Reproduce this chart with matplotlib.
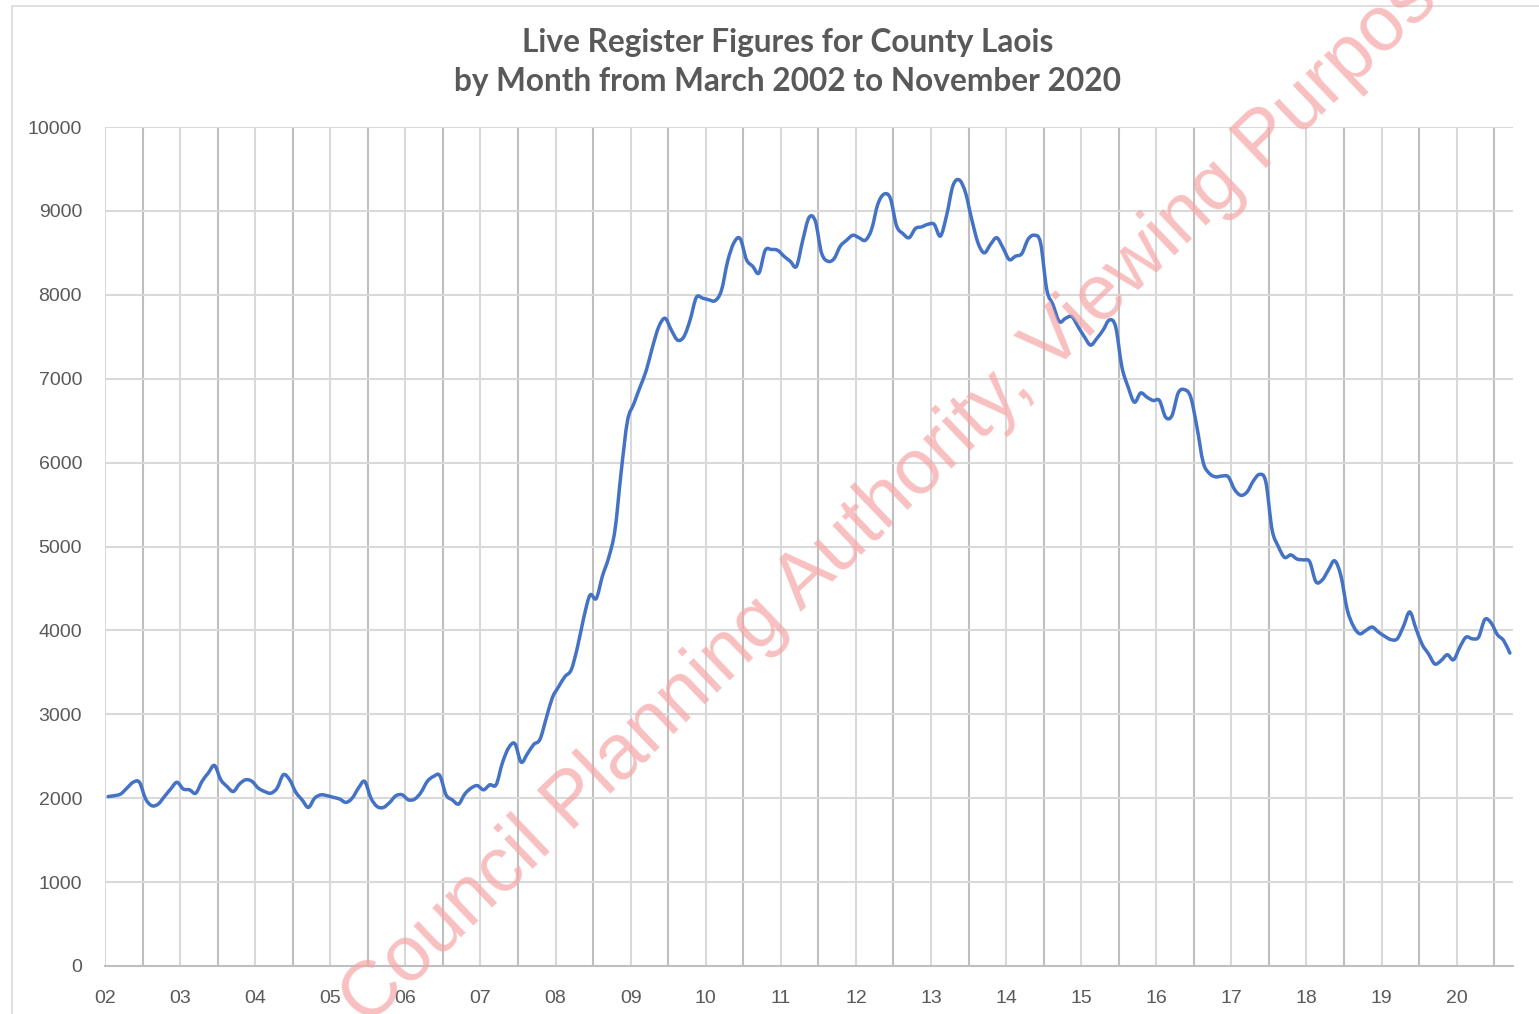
import numpy as np
import matplotlib
matplotlib.use("Agg")
import matplotlib.pyplot as plt
from matplotlib.patches import Rectangle, PathPatch
from matplotlib.path import Path

# Live register, Co. Laois, monthly from March 2002 to November 2020
values = [
    2020, 2030, 2050, 2120, 2190, 2190, 1990, 1910, 1930, 2020,   # 2002
    2110, 2190, 2110, 2100, 2060, 2200, 2300, 2390, 2220, 2140,
    2080, 2170, 2220, 2200, 2120, 2080, 2060, 2120, 2280, 2220,
    2070, 1980, 1890, 2000, 2040, 2030, 2010, 1990, 1950, 2000,
    2120, 2200, 2000, 1900, 1890, 1950, 2030, 2040, 1980, 1990,
    2070, 2200, 2260, 2270, 2040, 1980, 1930, 2050, 2120, 2150,
    2100, 2160, 2160, 2420, 2600, 2650, 2430, 2530, 2640, 2700,
    2950, 3200, 3330, 3450, 3530, 3800, 4150, 4420, 4380, 4650,
    4870, 5200, 5900, 6500, 6700, 6900, 7100, 7380, 7620, 7720,
    7580, 7460, 7500, 7700, 7970, 7960, 7940, 7930, 8050, 8400,
    8620, 8670, 8420, 8340, 8260, 8530, 8540, 8530, 8460, 8400,
    8340, 8650, 8920, 8880, 8500, 8400, 8430, 8580, 8650, 8710,
    8680, 8650, 8780, 9080, 9200, 9150, 8820, 8730, 8680, 8790,
    8810, 8840, 8840, 8700, 8950, 9300, 9370, 9220, 8900, 8620,
    8500, 8600, 8680, 8560, 8420, 8460, 8490, 8660, 8710, 8620,
    8060, 7880, 7680, 7720, 7740, 7620, 7500, 7400, 7480, 7580,
    7700, 7620, 7140, 6900, 6720, 6830, 6780, 6740, 6740, 6540,
    6560, 6830, 6870, 6780, 6420, 6000, 5870, 5830, 5840, 5830,
    5680, 5610, 5650, 5780, 5860, 5770, 5200, 5000, 4870, 4900,
    4850, 4840, 4820, 4580, 4600, 4720, 4830, 4650, 4250, 4050,
    3960, 4000, 4040, 3980, 3930, 3890, 3900, 4050, 4220, 4020,
    3830, 3720, 3600, 3640, 3710, 3650, 3800, 3920, 3900, 3920,
    4130, 4090, 3950, 3880, 3730,
]
year_labels = ["02", "03", "04", "05", "06", "07", "08", "09", "10", "11",
               "12", "13", "14", "15", "16", "17", "18", "19", "20"]
title = "Live Register Figures for County Laois\nby Month from March 2002 to November 2020"
watermark = "Council Planning Authority, Viewing Purpose"

n = len(values)
x = np.arange(n, dtype=float)
y = np.array(values, dtype=float)

fig = plt.figure(figsize=(15.39, 10.14), dpi=100)
ax = fig.add_axes([105 / 1539, 48 / 1014, 1408 / 1539, 839 / 1014])

# outer chart border
fig.patches.append(Rectangle((12 / 1539, -0.01), 1.0, 1.0 - 6 / 1014 + 0.01,
                             transform=fig.transFigure, fill=False,
                             edgecolor="#d9d9d9", linewidth=1.2))

ax.set_xlim(-0.5, n - 0.5)
ax.set_ylim(0, 10000)

# vertical grid: light at year labels, darker half way
light = np.arange(len(year_labels)) * 12 - 0.5
dark = light + 6
for xv in light:
    ax.axvline(xv, color="#d9d9d9", linewidth=1.5, zorder=1)
for xv in dark:
    if xv < n - 0.5:
        ax.axvline(xv, color="#bfbfbf", linewidth=1.5, zorder=1)
for yv in range(1000, 10001, 1000):
    ax.axhline(yv, color="#d9d9d9", linewidth=1.5, zorder=1)

# smoothed line like excel (bezier through every monthly point)
px = np.concatenate([[x[0]], x, [x[-1]]])
py = np.concatenate([[y[0]], y, [y[-1]]])
verts = [(x[0], y[0])]
codes = [Path.MOVETO]
for i in range(n - 1):
    c1 = (x[i] + (px[i + 2] - px[i]) / 6, y[i] + (py[i + 2] - py[i]) / 6)
    c2 = (x[i + 1] - (px[i + 3] - px[i + 1]) / 6, y[i + 1] - (py[i + 3] - py[i + 1]) / 6)
    verts += [c1, c2, (x[i + 1], y[i + 1])]
    codes += [Path.CURVE4] * 3
ax.add_patch(PathPatch(Path(verts, codes), fill=False, edgecolor="#4472C4",
                       linewidth=2.5, zorder=3, joinstyle="round", capstyle="round"))

ax.set_xticks(light)
ax.set_xticklabels(year_labels)
ax.set_yticks(range(0, 10001, 1000))
ax.tick_params(length=0, labelsize=14, colors="#595959")
ax.tick_params(axis="x", pad=17)
ax.tick_params(axis="y", pad=16.5)
for lbl in ax.get_xticklabels() + ax.get_yticklabels():
    lbl.set_family("Liberation Sans")

for side in ["top", "right", "left"]:
    ax.spines[side].set_visible(False)
ax.spines["bottom"].set_color("#bfbfbf")
ax.spines["bottom"].set_linewidth(1.5)

fig.text(788 / 1539, 1 - 62 / 1014, title, ha="center", va="center",
         fontsize=22.8, fontweight="bold", color="#595959", family="Lato",
         linespacing=1.42)

# watermark runs off the page edges, as in the original scan
fig.text(905 / 1539, 1 - 485 / 1014, watermark, ha="center", va="center",
         rotation=43.7, fontsize=56, color="#f6a5a5", alpha=0.7,
         family="Liberation Sans", zorder=10)

fig.savefig("out.png", dpi=100)
